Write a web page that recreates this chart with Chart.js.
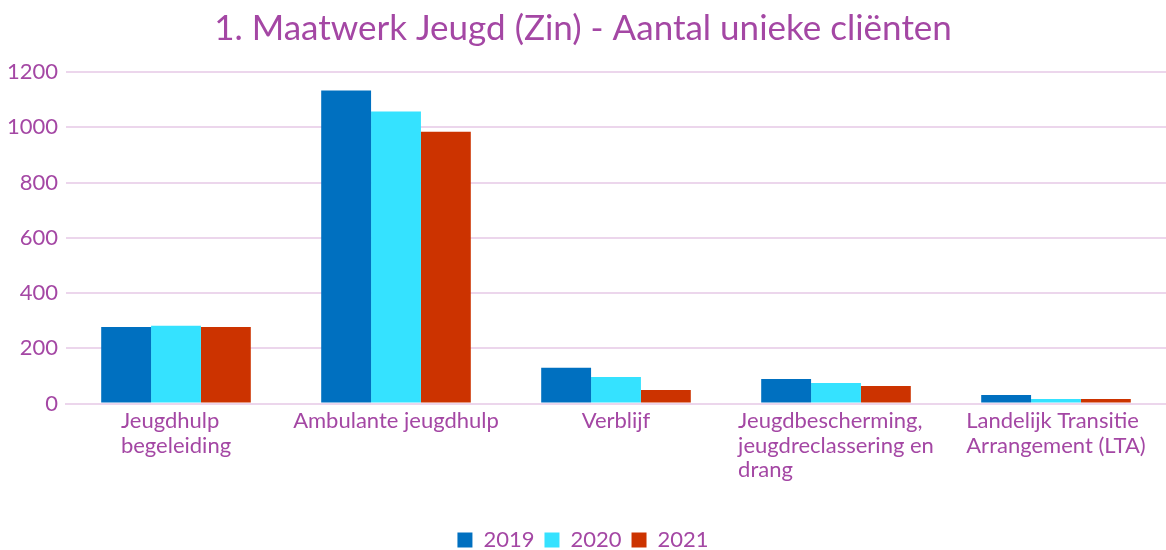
<!DOCTYPE html>
<html>
<head>
<meta charset="utf-8">
<script src="https://cdn.jsdelivr.net/npm/chart.js@4/dist/chart.umd.min.js"></script>
<style>
html,body{margin:0;padding:0;background:#fff;}
#wrap{width:1166px;height:550px;position:relative;}
</style>
</head>
<body>
<div id="wrap"><canvas id="c"></canvas></div>
<script>
const categories = [
  ["Jeugdhulp", "begeleiding"],
  ["Ambulante jeugdhulp"],
  ["Verblijf"],
  ["Jeugdbescherming,", "jeugdreclassering en", "drang"],
  ["Landelijk Transitie", "Arrangement (LTA)"]
];
const series2019 = [277, 1133, 129, 89, 31];
const series2020 = [281, 1057, 96, 74, 16];
const series2021 = [277, 984, 49, 63, 16];
const seriesNames = ["2019", "2020", "2021"];
const yTicks = [0, 200, 400, 600, 800, 1000, 1200];

const TEXT = '#a447a4';
const GRID = '#ecd6ec';
const FONT = 'Lato, "Open Sans", sans-serif';

const xLabelPlugin = {
  id: 'xLabels',
  afterDraw(chart) {
    const scale = chart.scales.x;
    const ctx = chart.ctx;
    ctx.save();
    ctx.font = '22px ' + FONT;
    ctx.fillStyle = TEXT;
    ctx.textAlign = 'left';
    ctx.textBaseline = 'alphabetic';
    const lh = 24.5;
    categories.forEach((lines, i) => {
      const cx = scale.getPixelForTick(i);
      let maxW = 0;
      lines.forEach(l => { maxW = Math.max(maxW, ctx.measureText(l).width); });
      const x0 = cx - maxW / 2;
      lines.forEach((l, j) => {
        ctx.fillText(l, x0, scale.top + 24.5 + j * lh);
      });
    });
    ctx.restore();
  }
};

new Chart(document.getElementById('c'), {
  type: 'bar',
  data: {
    labels: categories,
    datasets: [
      { label: seriesNames[0], data: series2019, backgroundColor: '#0070c0' },
      { label: seriesNames[1], data: series2020, backgroundColor: '#35e2ff' },
      { label: seriesNames[2], data: series2021, backgroundColor: '#cc3300' }
    ]
  },
  options: {
    responsive: true,
    maintainAspectRatio: false,
    animation: false,
    layout: { padding: { left: 0, right: 0, top: 0, bottom: -11 } },
    datasets: { bar: { categoryPercentage: 0.68, barPercentage: 1.0, borderWidth: 0 } },
    plugins: {
      title: {
        display: true,
        text: '1. Maatwerk Jeugd (Zin) - Aantal unieke cliënten',
        color: TEXT,
        font: { family: FONT, size: 35, weight: 'normal' },
        padding: { top: 8, bottom: 22 }
      },
      legend: {
        position: 'bottom',
        labels: {
          color: TEXT,
          font: { family: FONT, size: 22 },
          boxWidth: 15,
          boxHeight: 15,
          padding: 10
        }
      },
      tooltip: { enabled: false }
    },
    scales: {
      x: {
        grid: { display: false, drawTicks: false },
        border: { display: true, color: GRID, width: 2 },
        ticks: { display: false },
        afterFit(s) { s.height = 115.5; }
      },
      y: {
        min: 0,
        max: 1200,
        afterBuildTicks(s) { s.ticks = yTicks.map(v => ({ value: v })); },
        grid: { color: GRID, lineWidth: 2, drawTicks: false },
        border: { display: false },
        ticks: {
          color: TEXT,
          font: { family: FONT, size: 22 },
          padding: 8,
          callback: (v) => String(v)
        },
        afterFit(s) { s.width = 66; }
      }
    }
  },
  plugins: [xLabelPlugin]
});
</script>
</body>
</html>
